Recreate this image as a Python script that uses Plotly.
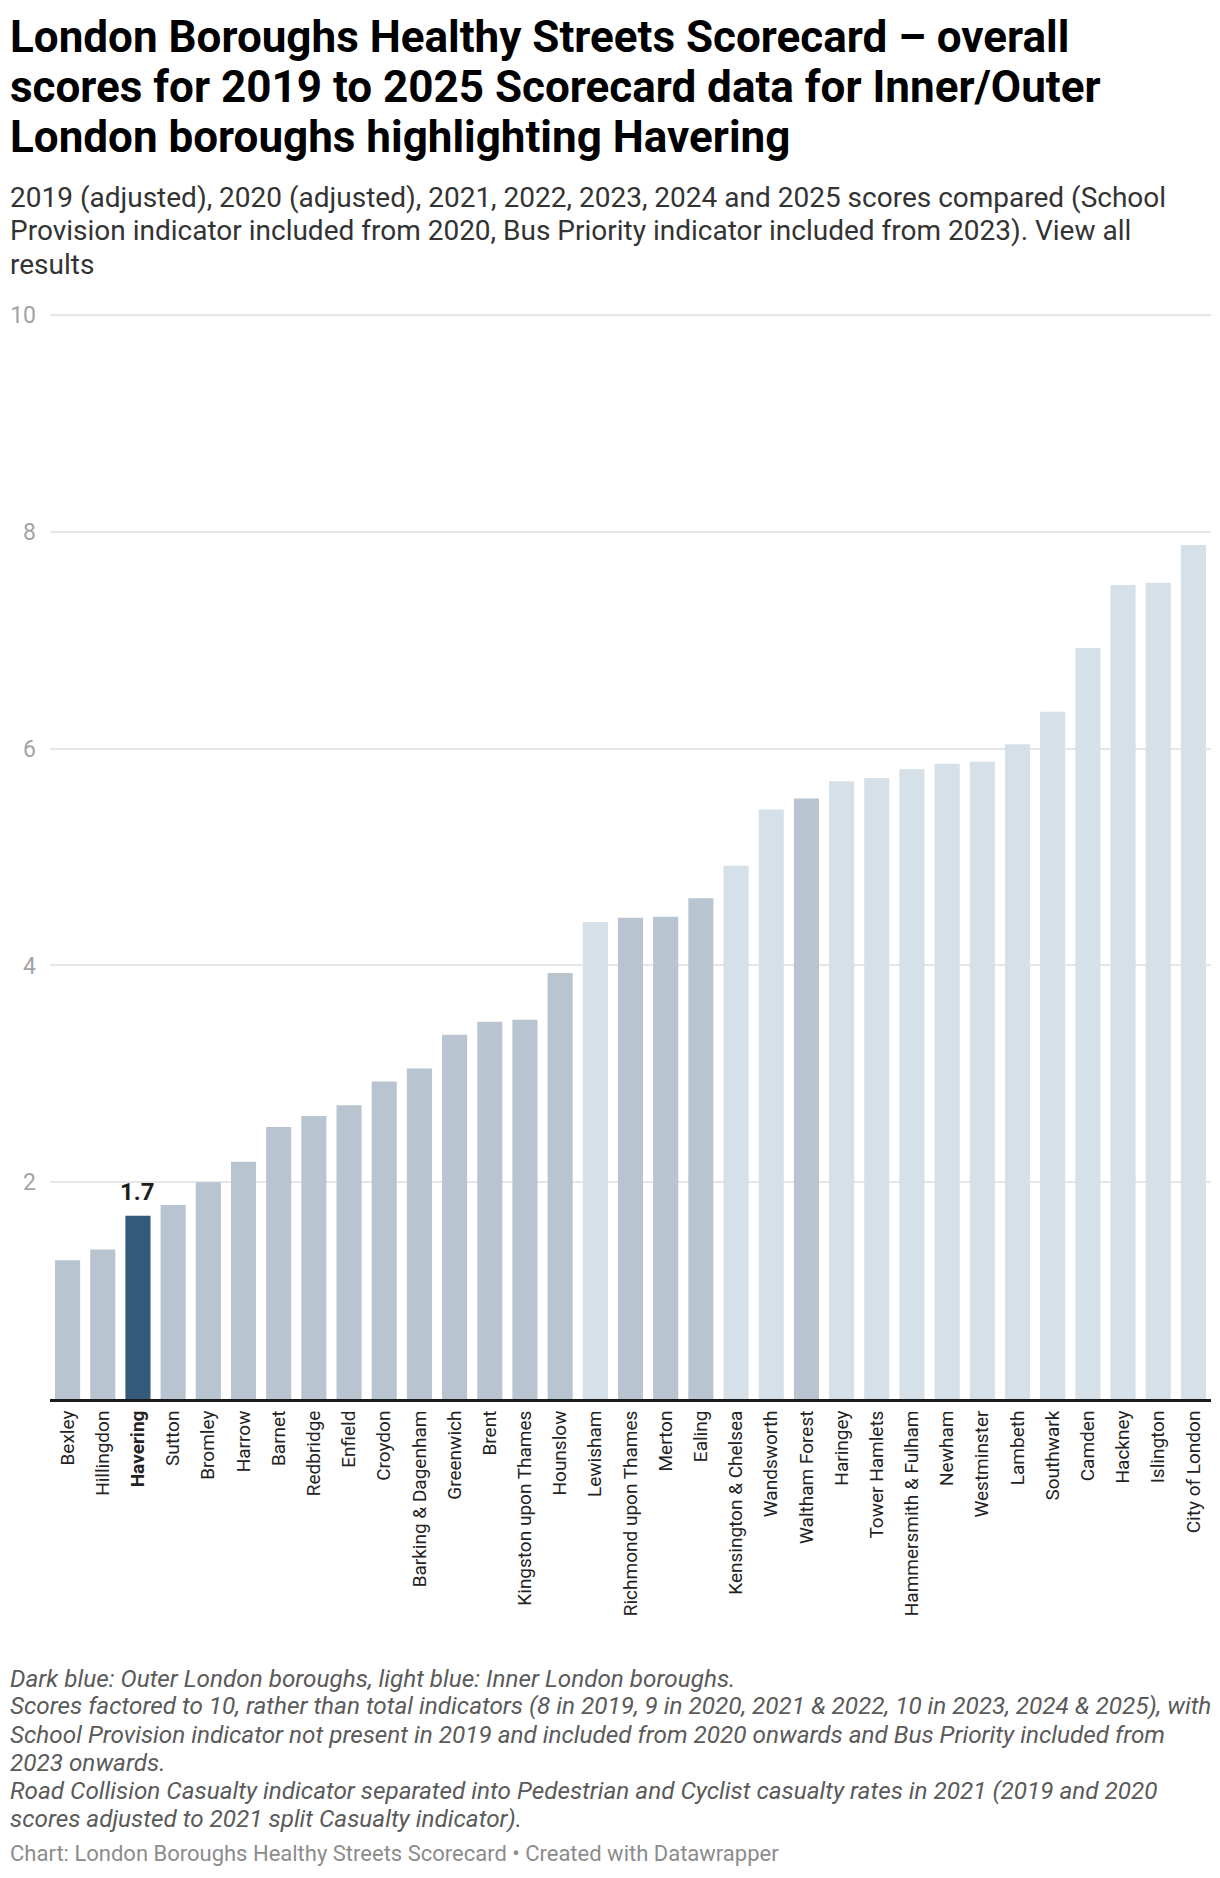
import plotly.graph_objects as go

# ---- data ----
boroughs = [
    "Bexley", "Hillingdon", "Havering", "Sutton", "Bromley", "Harrow", "Barnet",
    "Redbridge", "Enfield", "Croydon", "Barking & Dagenham", "Greenwich", "Brent",
    "Kingston upon Thames", "Hounslow", "Lewisham", "Richmond upon Thames", "Merton",
    "Ealing", "Kensington & Chelsea", "Wandsworth", "Waltham Forest", "Haringey",
    "Tower Hamlets", "Hammersmith & Fulham", "Newham", "Westminster", "Lambeth",
    "Southwark", "Camden", "Hackney", "Islington", "City of London",
]
scores = [
    1.28, 1.38, 1.69, 1.79, 2.00, 2.19, 2.51,
    2.61, 2.71, 2.93, 3.05, 3.36, 3.48,
    3.50, 3.93, 4.40, 4.44, 4.45,
    4.62, 4.92, 5.44, 5.54, 5.70,
    5.73, 5.81, 5.86, 5.88, 6.04,
    6.34, 6.93, 7.51, 7.53, 7.88,
]
group = [
    "Outer", "Outer", "Outer", "Outer", "Outer", "Outer", "Outer",
    "Outer", "Outer", "Outer", "Outer", "Outer", "Outer",
    "Outer", "Outer", "Inner", "Outer", "Outer",
    "Outer", "Inner", "Inner", "Outer", "Inner",
    "Inner", "Inner", "Inner", "Inner", "Inner",
    "Inner", "Inner", "Inner", "Inner", "Inner",
]
highlight = "Havering"
y_ticks = [2, 4, 6, 8, 10]

title_lines = [
    "London Boroughs Healthy Streets Scorecard – overall",
    "scores for 2019 to 2025 Scorecard data for Inner/Outer",
    "London boroughs highlighting Havering",
]
subtitle_lines = [
    "2019 (adjusted), 2020 (adjusted), 2021, 2022, 2023, 2024 and 2025 scores compared (School",
    "Provision indicator included from 2020, Bus Priority indicator included from 2023). View all",
    "results",
]
note_lines = [
    "Dark blue: Outer London boroughs, light blue: Inner London boroughs.",
    "Scores factored to 10, rather than total indicators (8 in 2019, 9 in 2020, 2021 & 2022, 10 in 2023, 2024 & 2025), with",
    "School Provision indicator not present in 2019 and included from 2020 onwards and Bus Priority included from",
    "2023 onwards.",
    "Road Collision Casualty indicator separated into Pedestrian and Cyclist casualty rates in 2021 (2019 and 2020",
    "scores adjusted to 2021 split Casualty indicator).",
]
source_text = "Chart: London Boroughs Healthy Streets Scorecard • Created with Datawrapper"

# ---- styling ----
W, H = 1220, 1878
PLOT_L, PLOT_R = 50, 1211
PLOT_T, PLOT_B = 313, 1399
FONT = "Roboto"
C_OUTER = "#b8c5d0"
C_INNER = "#d5e0e9"
C_HI = "#335a7b"
Y_MAX = 10.02

colors = []
for b, g in zip(boroughs, group):
    if b == highlight:
        colors.append(C_HI)
    elif g == "Outer":
        colors.append(C_OUTER)
    else:
        colors.append(C_INNER)

ticktext = [f"<b>{b}</b>" if b == highlight else b for b in boroughs]

fig = go.Figure()
fig.add_trace(go.Bar(
    x=boroughs, y=scores, marker=dict(color=colors, line=dict(width=0)),
    hoverinfo="x+y",
))


def px_to_paper_y(py):
    return (PLOT_B - py) / (PLOT_B - PLOT_T)


def px_to_paper_x(px):
    return (px - PLOT_L) / (PLOT_R - PLOT_L)


annotations = []


def add_line(text, x_px, y_px, size, color, bold=False, italic=False):
    t = text
    if bold:
        t = f"<b>{t}</b>"
    if italic:
        t = f"<i>{t}</i>"
    annotations.append(dict(
        text=t, xref="paper", yref="paper",
        x=px_to_paper_x(x_px), y=px_to_paper_y(y_px),
        xanchor="left", yanchor="middle", showarrow=False, align="left",
        font=dict(family=FONT, size=size, color=color),
    ))


for i, line in enumerate(title_lines):
    add_line(line, 8, 37 + i * 50, 44, "#000000", bold=True)
for i, line in enumerate(subtitle_lines):
    add_line(line, 8, 197 + i * 33.5, 28, "#333333")
for i, line in enumerate(note_lines):
    add_line(line, 8, 1678 + i * 28, 24.3, "#5a5a5a", italic=True)
add_line(source_text, 8, 1853, 22, "#8c8c8c")

# value label on highlighted bar
hi_idx = boroughs.index(highlight)
annotations.append(dict(
    text=f"<b>{scores[hi_idx]:.1f}</b>", x=boroughs[hi_idx], y=scores[hi_idx],
    xref="x", yref="y", xanchor="center", yanchor="bottom", yshift=8,
    showarrow=False, font=dict(family=FONT, size=24, color="#1d1d1d"),
))

# top gridline (at the edge of the value range)
shapes = [dict(
    type="line", xref="paper", yref="y", x0=0, x1=1,
    y0=y_ticks[-1], y1=y_ticks[-1], layer="below",
    line=dict(color="#e6e6e6", width=2),
)]

fig.update_layout(
    width=W, height=H,
    margin=dict(l=PLOT_L, r=W - PLOT_R, t=PLOT_T, b=H - PLOT_B, pad=0),
    paper_bgcolor="white", plot_bgcolor="white",
    bargap=0.286,
    showlegend=False,
    annotations=annotations,
    shapes=shapes,
    font=dict(family=FONT),
    xaxis=dict(
        tickmode="array", tickvals=boroughs, ticktext=ticktext,
        tickangle=-90, tickfont=dict(family=FONT, size=19, color="#222222"),
        showgrid=False, showline=True, linecolor="#1a1a1a", linewidth=3,
        ticks="", ticklabelstandoff=1, fixedrange=True,
    ),
    yaxis=dict(
        range=[0, Y_MAX], tickmode="array", tickvals=y_ticks,
        tickfont=dict(family=FONT, size=23, color="#a3a3a3"),
        showgrid=True, gridcolor="#e6e6e6", gridwidth=2,
        zeroline=False, showline=False, ticks="", ticklabelstandoff=13,
        fixedrange=True,
    ),
)

fig.write_html(
    "out.html",
    config={"displayModeBar": False},
    post_script="document.body.style.margin='0';",
)
